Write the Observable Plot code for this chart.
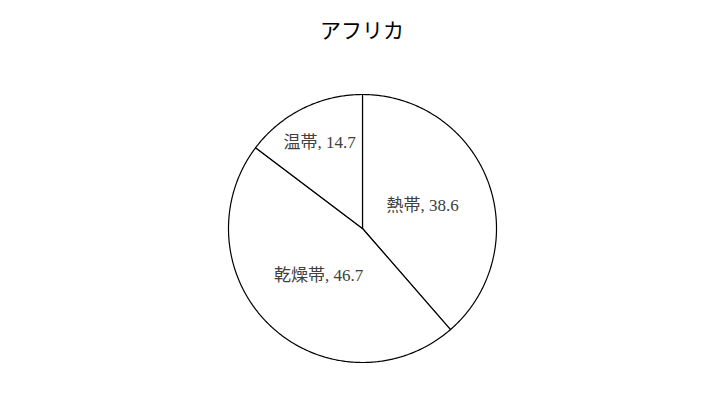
<!DOCTYPE html>
<html>
<head>
<meta charset="utf-8">
<script src="https://cdn.jsdelivr.net/npm/d3@7"></script>
<script src="https://cdn.jsdelivr.net/npm/@observablehq/plot@0.6"></script>
<style>
  body { margin: 0; background: #fff; }
  #title { height: 60px; line-height: 62px; text-align: center; font-family: "Liberation Serif", "Noto Sans CJK JP", serif; font-size: 21px; color: #000; }
</style>
</head>
<body>
<div id="title">アフリカ</div>
<div id="chart"></div>
<script>
const categories = ["熱帯", "乾燥帯", "温帯"];
const values = [38.6, 46.7, 14.7];

const total = d3.sum(values);
const pie = d3.pie().sort(null).value(d => d.value);
const arcs = pie(categories.map((c, i) => ({category: c, value: values[i]})));

// polygon points for each slice (unit circle, angle clockwise from 12 o'clock)
const slicePts = [];
arcs.forEach(a => {
  const n = Math.max(2, Math.ceil((a.endAngle - a.startAngle) / 0.01));
  slicePts.push({cat: a.data.category, x: 0, y: 0});
  for (let k = 0; k <= n; k++) {
    const t = a.startAngle + (a.endAngle - a.startAngle) * k / n;
    slicePts.push({cat: a.data.category, x: Math.sin(t), y: Math.cos(t)});
  }
});

// narrow slices get their label pushed further out ("best fit")
const labels = arcs.map(a => {
  const m = (a.startAngle + a.endAngle) / 2;
  const r = a.data.value / total < 0.2 ? 0.72 : 0.48;
  return {x: r * Math.sin(m), y: r * Math.cos(m), text: `${a.data.category}, ${a.data.value}`};
});

const chart = Plot.plot({
  width: 724,
  height: 348,
  marginLeft: 228,
  marginRight: 228,
  marginTop: 34,
  marginBottom: 46,
  x: {domain: [-1, 1], axis: null},
  y: {domain: [-1, 1], axis: null},
  style: {fontFamily: "'Liberation Serif', 'Noto Sans CJK JP', serif", background: "white"},
  marks: [
    Plot.line(slicePts, {x: "x", y: "y", z: "cat", curve: "linear-closed", fill: "white", stroke: "black", strokeWidth: 1.2}),
    Plot.text(labels, {x: "x", y: "y", text: "text", fontSize: 17, fill: "#404040"})
  ]
});
document.getElementById("chart").appendChild(chart);
</script>
</body>
</html>
